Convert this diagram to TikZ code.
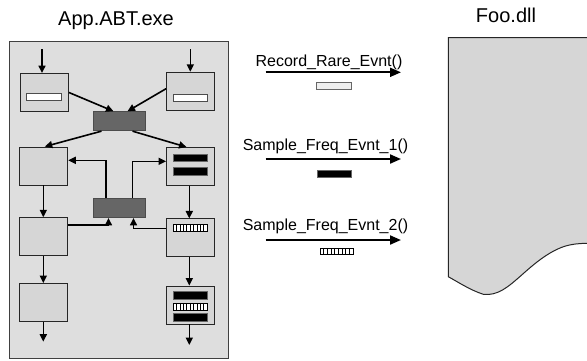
\documentclass[tikz,border=0pt]{standalone}
\usepackage{fontspec}
\setmainfont{Liberation Sans}
\usetikzlibrary{arrows.meta}
\definecolor{panelgray}{HTML}{DEDEDE}
\definecolor{boxgray}{HTML}{D6D6D6}
\definecolor{darkbox}{HTML}{666666}
\tikzset{
  panel/.style={draw=black!75, line width=1pt, fill=panelgray},
  blk/.style={draw=black!85, line width=0.9pt, fill=boxgray, minimum width=48pt, minimum height=38pt, inner sep=0pt},
  dbox/.style={draw=black!70, line width=0.9pt, fill=darkbox, minimum width=52pt, minimum height=19pt, inner sep=0pt},
  wbar/.style={draw=black!70, line width=0.8pt, fill=white, minimum width=34pt, minimum height=7pt, inner sep=0pt},
  bbar/.style={draw=black!60, line width=0.6pt, fill=black, minimum width=34pt, minimum height=7.5pt, inner sep=0pt},
  hbar/.style={draw=black, line width=0.8pt, fill=white, minimum width=34pt, minimum height=7pt, inner sep=0pt,
    path picture={\foreach \i in {1,...,9}{\draw[line width=1pt] ([xshift=\i*3.4pt]path picture bounding box.south west) -- ([xshift=\i*3.4pt]path picture bounding box.north west);}}},
  hbarsmall/.style={draw=black, line width=0.8pt, fill=white, minimum width=33pt, minimum height=6.5pt, inner sep=0pt,
    path picture={\foreach \i in {1,...,8}{\draw[line width=1pt] ([xshift=\i*3.67pt]path picture bounding box.south west) -- ([xshift=\i*3.67pt]path picture bounding box.north west);}}},
  conn/.style={line width=1.6pt, -{Triangle[length=7.5pt,width=7pt]}},
  bigarrow/.style={line width=2pt, -{Triangle[length=11pt,width=9pt]}},
  title/.style={font=\fontsize{20}{22}\selectfont, anchor=base, inner sep=0pt},
  lbl/.style={font=\fontsize{16}{18}\selectfont, anchor=base, inner sep=0pt},
  dll/.style={draw=black!85, line width=1pt, fill=boxgray}
}
\begin{document}
\begin{tikzpicture}[x=1pt,y=-1pt]
\useasboundingbox (0,0) rectangle (587,360);
% titles
\node[title] (tapp) at (116,25) {App.ABT.exe};
\node[title] (tfoo) at (506,22) {Foo.dll};
% panel
\path[panel] (9.3,41) rectangle (228.3,358.3);
% boxes
\node[blk] (L1) at (44.5,92.5) {};
\node[blk] (R1) at (190.5,91.2) {};
\node[dbox] (D1) at (119.5,121.2) {};
\node[blk] (L2) at (43.8,166) {};
\node[blk] (R2) at (190.5,166.5) {};
\node[dbox] (D2) at (119.5,208) {};
\node[blk] (L3) at (43.8,236.7) {};
\node[blk] (R3) at (190.5,237.9) {};
\node[blk] (L4) at (43.8,302.5) {};
\node[blk] (R4) at (190.5,305) {};
% bars inside boxes
\node[wbar, minimum width=35pt] (wL1) at (44.2,96.5) {};
\node[wbar] (wR1) at (190.3,97.5) {};
\node[bbar] (bR2a) at (190.3,158) {};
\node[bbar, minimum height=8pt] (bR2b) at (190.3,170.8) {};
\node[hbar] (hR3) at (190.3,227.5) {};
\node[bbar, minimum height=8pt] (bR4a) at (190.3,295) {};
\node[hbar] (hR4) at (190.3,307) {};
\node[bbar, minimum height=8pt] (bR4b) at (190.3,317.2) {};
% free ends
\coordinate (inL) at (42,49);
\coordinate (inR) at (190.3,49);
\coordinate (outL) at (43.3,341.7);
\coordinate (outR) at (189.3,345);
% connectors
\draw[conn] (inL) -- (inL |- L1.north);
\draw[conn] (inR) -- (inR |- R1.north);
\draw[conn] (L1.east) -- ([xshift=-6]D1.north);
\draw[conn] ([yshift=2.5]R1.west) -- ([xshift=8]D1.north);
\draw[conn] ([xshift=-18]D1.south) -- ([xshift=1]L2.north);
\draw[conn] ([xshift=13]D1.south) -- ([xshift=-4]R2.north);
\draw[conn] ([xshift=-13.5]D2.north) |- ([yshift=5.7]L2.east);
\draw[conn] ([xshift=13]D2.north) |- ([yshift=5.2]R2.west);
\draw[conn] ([yshift=11.5]L3.east) -| ([xshift=-11]D2.south);
\draw[conn] ([yshift=9.5]R3.west) -| ([xshift=14]D2.south);
\draw[conn] ([xshift=-0.5]L2.south) -- ([xshift=-0.5]L3.north);
\draw[conn] ([xshift=-0.5]L3.south) -- ([xshift=-0.5]L4.north);
\draw[conn] (outL |- L4.south) -- (outL);
\draw[conn] ([xshift=-1.2]R2.south) -- ([xshift=-1.2]R3.north);
\draw[conn] ([xshift=-1.2]R3.south) -- ([xshift=-1.2]R4.north);
\draw[conn] (outR |- R4.south) -- (outR);
% Foo.dll shape
\path[dll] (448.3,37.7) -- (592,37.7) -- (592,243.3) -- (587,243.3)
  .. controls (578,243.5) and (572,244) .. (564,246.5)
  .. controls (548,252) and (534,264) .. (521.7,275)
  .. controls (508,287) and (498,296) .. (483.3,294.3)
  .. controls (470,290) and (458,282) .. (448.3,276.7) -- cycle;
% calls
\coordinate (a1s) at (265.7,72.3);
\coordinate (a1e) at (401,72.3);
\coordinate (a2s) at (265.7,159);
\coordinate (a2e) at (401,159);
\coordinate (a3s) at (265.7,240);
\coordinate (a3e) at (401,240);
\node[lbl] (l1) at (329,66) {Record\_Rare\_Evnt()};
\node[lbl] (l2) at (325.5,150) {Sample\_Freq\_Evnt\_1()};
\node[lbl] (l3) at (325.5,230) {Sample\_Freq\_Evnt\_2()};
\draw[bigarrow] (a1s) -- (a1e);
\draw[bigarrow] (a2s) -- (a2e);
\draw[bigarrow] (a3s) -- (a3e);
\node[wbar, draw=black!60, fill=boxgray!40, minimum width=35pt] (m1) at (333.4,86.3) {};
\node[bbar] (m2) at (334.4,173.6) {};
\node[hbarsmall] (m3) at (336.7,251.5) {};
\end{tikzpicture}
\end{document}
